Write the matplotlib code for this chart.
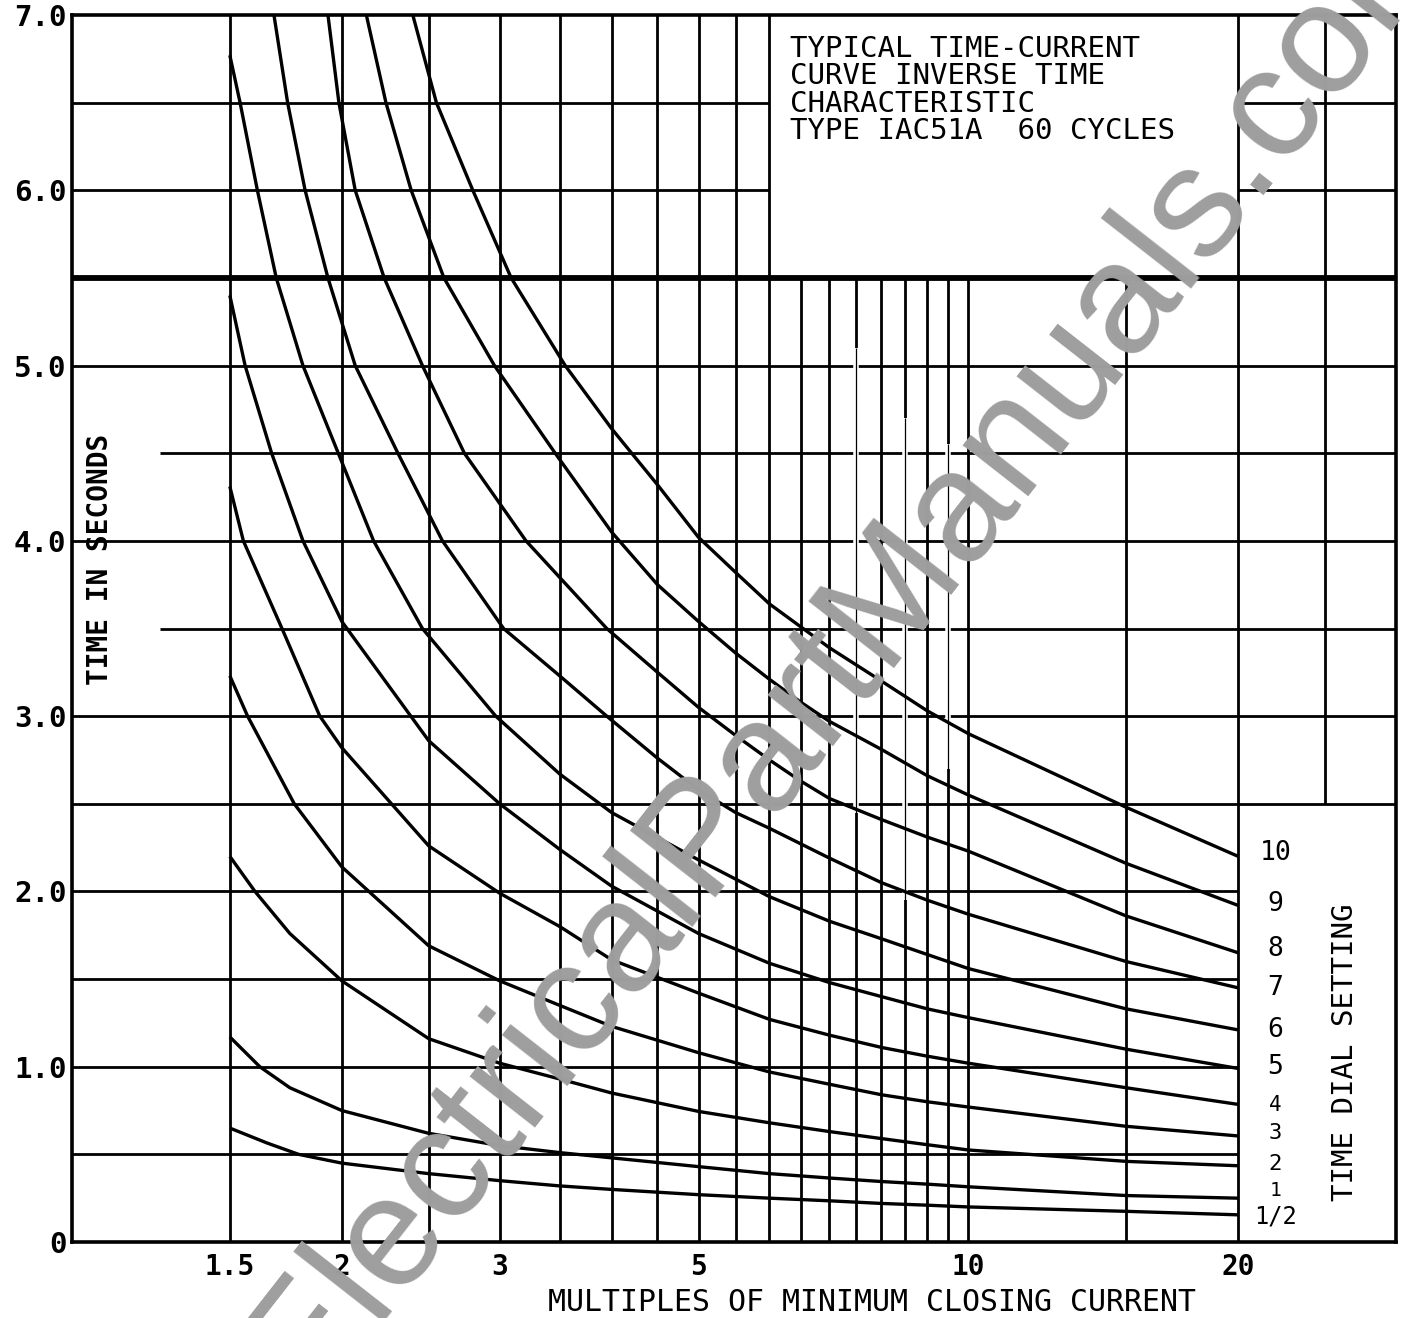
import matplotlib
matplotlib.use("Agg")
import matplotlib.pyplot as plt
from matplotlib.ticker import NullLocator

# time-current curves: multiples of pickup vs seconds
x_half = [1.5, 1.65, 1.79, 2, 2.5, 3, 3.5, 4, 5, 6, 7, 8, 9, 10, 15, 20]
t_half = [0.65, 0.565, 0.50, 0.45, 0.39, 0.35, 0.32, 0.30, 0.27, 0.25, 0.235, 0.22, 0.21, 0.20, 0.175, 0.155]

x_d1 = [1.5, 1.62, 1.75, 2, 2.5, 3, 3.5, 4, 5, 6, 7, 8, 9, 10, 15, 20]
t_d1 = [1.17, 1.0, 0.88, 0.75, 0.62, 0.55, 0.51, 0.48, 0.43, 0.39, 0.365, 0.345, 0.33, 0.315, 0.265, 0.25]

x_d2 = [1.5, 1.6, 1.75, 2, 2.5, 3, 3.5, 4, 5, 6, 7, 8, 9, 10, 15, 20]
t_d2 = [2.2, 2.0, 1.76, 1.49, 1.16, 1.02, 0.93, 0.85, 0.745, 0.68, 0.63, 0.59, 0.555, 0.525, 0.46, 0.435]

x_d3 = [1.5, 1.57, 1.77, 2, 2.5, 3, 3.5, 4, 5, 6, 7, 8, 9, 10, 15, 20]
t_d3 = [3.23, 3.0, 2.5, 2.14, 1.69, 1.49, 1.35, 1.23, 1.08, 0.97, 0.90, 0.84, 0.80, 0.77, 0.66, 0.605]

x_d4 = [1.5, 1.553, 1.715, 1.89, 2, 2.5, 3, 3.5, 4, 5, 6, 7, 8, 9, 10, 15, 20]
t_d4 = [4.31, 4.0, 3.5, 3.0, 2.82, 2.26, 1.99, 1.80, 1.61, 1.42, 1.27, 1.18, 1.11, 1.06, 1.02, 0.88, 0.785]

x_d5 = [1.5, 1.56, 1.67, 1.81, 2, 2.5, 3, 3.5, 4, 5, 6, 7, 8, 9, 10, 15, 20]
t_d5 = [5.40, 5.0, 4.5, 4.0, 3.54, 2.86, 2.5, 2.24, 2.03, 1.76, 1.59, 1.48, 1.40, 1.33, 1.28, 1.10, 0.99]

x_d6 = [1.5, 1.54, 1.61, 1.69, 1.81, 2.0, 2.17, 2.46, 2.97, 3.5, 4, 5, 6, 7, 8, 9, 10, 15, 20]
t_d6 = [6.77, 6.5, 6.0, 5.5, 5.0, 4.45, 4.0, 3.5, 3.0, 2.67, 2.45, 2.18, 1.97, 1.83, 1.73, 1.64, 1.56, 1.33, 1.21]

x_d7 = [1.68, 1.74, 1.82, 1.93, 2.07, 2.31, 2.59, 3.03, 3.5, 3.95, 4.5, 5, 5.5, 6, 7, 8, 9, 10, 15, 20]
t_d7 = [7.0, 6.5, 6.0, 5.5, 5.0, 4.5, 4.0, 3.5, 3.23, 3.0, 2.76, 2.58, 2.45, 2.36, 2.19, 2.05, 1.95, 1.87, 1.60, 1.45]

x_d8 = [1.93, 1.985, 2.07, 2.23, 2.46, 2.74, 3.21, 3.95, 4.5, 5, 5.5, 6, 6.5, 7, 8, 9, 10, 15, 20]
t_d8 = [7.0, 6.5, 6.0, 5.5, 5.0, 4.5, 4.0, 3.5, 3.25, 3.05, 2.89, 2.75, 2.63, 2.53, 2.41, 2.31, 2.23, 1.86, 1.65]

x_d9 = [2.13, 2.24, 2.39, 2.60, 2.96, 3.46, 4, 4.5, 5, 5.5, 6, 6.5, 7, 8, 9, 10, 15, 20]
t_d9 = [7.0, 6.5, 6.0, 5.5, 5.0, 4.5, 4.05, 3.75, 3.54, 3.36, 3.21, 3.08, 2.97, 2.81, 2.66, 2.55, 2.16, 1.92]

x_d10 = [2.40, 2.55, 2.80, 3.09, 3.55, 4, 4.5, 5, 5.5, 6, 6.5, 7, 8, 9, 10, 15, 20]
t_d10 = [7.0, 6.5, 6.0, 5.5, 5.0, 4.64, 4.32, 4.02, 3.82, 3.64, 3.51, 3.39, 3.20, 3.03, 2.90, 2.48, 2.20]

dial_names = ["1/2", "1", "2", "3", "4", "5", "6", "7", "8", "9", "10"]
curves = [(x_half, t_half), (x_d1, t_d1), (x_d2, t_d2), (x_d3, t_d3), (x_d4, t_d4),
          (x_d5, t_d5), (x_d6, t_d6), (x_d7, t_d7), (x_d8, t_d8), (x_d9, t_d9),
          (x_d10, t_d10)]

x_ticks = [1.5, 2, 3, 5, 10, 20]
x_tick_labels = ["1.5", "2", "3", "5", "10", "20"]
y_ticks = [0, 1, 2, 3, 4, 5, 6, 7]
y_tick_labels = ["0", "1.0", "2.0", "3.0", "4.0", "5.0", "6.0", "7.0"]

title_lines = "TYPICAL TIME-CURRENT\nCURVE INVERSE TIME\nCHARACTERISTIC\nTYPE IAC51A  60 CYCLES"

# layout: where the dial numbers sit in the right hand column, and how big
label_t = [0.145, 0.295, 0.445, 0.62, 0.78, 1.0, 1.21, 1.45, 1.67, 1.93, 2.22]
label_size = [17, 14, 16, 16, 15, 19, 19, 19, 19, 19, 19]

MONO = "DejaVu Sans Mono"
GRID_LW = 2.0

fig = plt.figure(figsize=(14.02, 13.18), dpi=100)
ax = fig.add_axes([72 / 1402, 1 - 1242 / 1318, 1324 / 1402, 1227 / 1318])
ax.set_xscale("log")
ax.set_xlim(1, 30)
ax.set_ylim(0, 7)

# vertical rulings
full_v = [1.5, 2, 2.5, 3, 3.5, 4, 4.5, 5, 5.5, 6, 20]
short_v = [6.5, 7, 7.5, 8, 8.5, 9, 9.5, 10, 15]
ax.vlines(full_v, 0, 7, color="black", lw=GRID_LW)
ax.vlines(short_v, 0, 5.5, color="black", lw=GRID_LW)
ax.vlines(25, 2.5, 7, color="black", lw=GRID_LW)

# horizontal rulings
ax.hlines([0.5, 1.0, 1.5, 2.0], 1, 20, color="black", lw=GRID_LW)
ax.hlines([2.5, 3.0, 4.0, 5.0], 1, 30, color="black", lw=GRID_LW)
ax.hlines([3.5, 4.5], 1.254, 30, color="black", lw=GRID_LW)
ax.hlines([6.0, 6.5], 1, 6, color="black", lw=GRID_LW)
ax.hlines([6.0, 6.5], 20, 30, color="black", lw=GRID_LW)
ax.hlines(5.5, 1, 30, color="black", lw=4.2)

# worn spots of the printed grid: thin rulings with a white gap beside them
ax.vlines([7.5, 8.5, 9.5], [2.45, 1.95, 2.7], [5.1, 4.7, 4.55], color="white", lw=4.0, zorder=2.5)
ax.vlines([7.5, 8.5, 9.5], [2.45, 1.95, 2.7], [5.1, 4.7, 4.55], color="black", lw=0.9, zorder=2.6)

for xs, ts in curves:
    ax.plot(xs, ts, color="black", lw=2.4, solid_capstyle="butt", zorder=3)

for name, ty, fs in zip(dial_names, label_t, label_size):
    ax.text(22.0, ty, name, ha="center", va="center", fontsize=fs,
            family=MONO, color="black")

ax.text(6.32, 6.885, title_lines, ha="left", va="top", fontsize=21,
        family=MONO, linespacing=0.97, color="black")

ax.text(0.0215, 0.556, "TIME IN SECONDS", transform=ax.transAxes, rotation=90,
        ha="center", va="center", fontsize=20, family=MONO, fontweight="bold")
ax.text(0.9615, 0.155, "TIME DIAL SETTING", transform=ax.transAxes, rotation=90,
        ha="center", va="center", fontsize=21, family=MONO)
ax.text(0.604, -0.0497, "MULTIPLES OF MINIMUM CLOSING CURRENT", transform=ax.transAxes,
        ha="center", va="center", fontsize=21.5, family=MONO)

ax.xaxis.set_minor_locator(NullLocator())
ax.set_xticks(x_ticks)
ax.set_xticklabels(x_tick_labels, family=MONO, fontweight="bold", fontsize=20)
ax.set_yticks(y_ticks)
ax.set_yticklabels(y_tick_labels, family=MONO, fontweight="bold", fontsize=21)
ax.tick_params(length=0)
ax.tick_params(axis="x", pad=8)
ax.tick_params(axis="y", pad=4)
for sp in ax.spines.values():
    sp.set_linewidth(2.6)

fig.text(853 / 1402, 1 - 639 / 1318, "ElectricalPartManuals.com", rotation=52,
         ha="center", va="center", fontsize=114, family="Liberation Sans",
         color="#9e9e9e", zorder=10)

fig.savefig("out.png", dpi=100)
